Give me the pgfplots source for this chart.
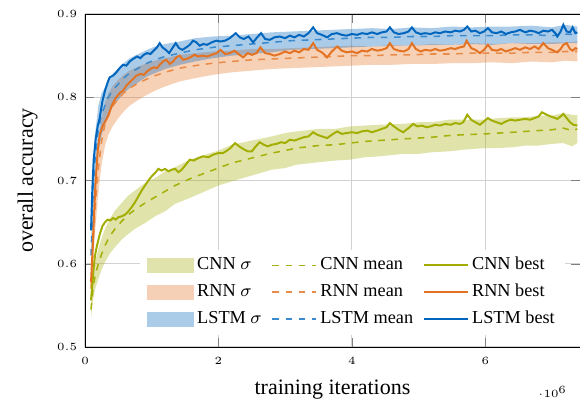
\documentclass[border=0pt]{standalone}
\usepackage{fontspec}
\setmainfont{Liberation Serif}
\usepackage{pgfplots}
\usepackage{pgfplotstable}
\pgfplotsset{compat=1.18}
\usepgfplotslibrary{fillbetween}
\definecolor{tumblue}{RGB}{0,101,189}
\definecolor{tumorange}{RGB}{227,114,34}
\definecolor{tumgreen}{RGB}{162,173,0}
\definecolor{cnnmeancol}{RGB}{165,176,10}
\definecolor{rnnmeancol}{RGB}{233,140,74}
\definecolor{lstmmeancol}{RGB}{60,138,206}
\pgfplotsset{bandlegend/.style={area legend,
  legend image code/.code={\path[##1] (0cm,-0.12cm) rectangle (0.75cm,0.12cm);}}}

% mean and standard deviation (x in millions)
\pgfplotstableread{
x m s
0.09 0.545 0.010
0.12 0.570 0.014
0.15 0.585 0.016
0.20 0.600 0.018
0.25 0.612 0.019
0.30 0.622 0.020
0.37 0.633 0.021
0.45 0.642 0.022
0.55 0.651 0.022
0.65 0.659 0.023
0.75 0.665 0.023
0.90 0.673 0.024
1.05 0.680 0.023
1.20 0.687 0.024
1.35 0.694 0.022
1.57 0.702 0.023
1.80 0.709 0.022
2.00 0.715 0.021
2.20 0.721 0.022
2.50 0.727 0.021
2.80 0.733 0.020
3.00 0.736 0.021
3.17 0.739 0.020
3.50 0.742 0.020
3.75 0.743 0.019
3.97 0.745 0.020
4.20 0.747 0.019
4.40 0.748 0.019
4.77 0.750 0.018
5.00 0.751 0.019
5.20 0.752 0.018
5.45 0.754 0.019
5.67 0.755 0.018
6.00 0.756 0.017
6.20 0.757 0.018
6.42 0.758 0.018
6.60 0.759 0.017
6.80 0.760 0.018
7.00 0.761 0.017
7.17 0.763 0.018
7.30 0.760 0.019
7.38 0.762 0.017
}\cnnmean

\pgfplotstableread{
x m s
0.09 0.570 0.010
0.12 0.620 0.022
0.15 0.665 0.028
0.20 0.715 0.030
0.25 0.748 0.028
0.30 0.768 0.026
0.35 0.780 0.025
0.42 0.790 0.024
0.50 0.798 0.023
0.58 0.805 0.022
0.67 0.811 0.021
0.80 0.817 0.020
0.93 0.822 0.019
1.05 0.826 0.018
1.20 0.830 0.017
1.42 0.835 0.016
1.65 0.838 0.015
1.92 0.841 0.014
2.20 0.843 0.013
2.50 0.845 0.013
2.80 0.846 0.012
3.10 0.847 0.012
3.40 0.848 0.012
3.70 0.849 0.012
4.00 0.850 0.012
4.30 0.850 0.011
4.60 0.851 0.012
4.90 0.851 0.011
5.20 0.852 0.012
5.50 0.852 0.011
5.80 0.853 0.012
6.10 0.853 0.011
6.40 0.853 0.012
6.70 0.854 0.011
7.00 0.854 0.012
7.20 0.855 0.011
7.38 0.855 0.012
}\rnnmean

\pgfplotstableread{
x m s
0.09 0.610 0.012
0.12 0.680 0.025
0.15 0.725 0.030
0.20 0.762 0.028
0.25 0.780 0.025
0.30 0.790 0.022
0.35 0.800 0.021
0.42 0.809 0.020
0.50 0.816 0.019
0.58 0.823 0.018
0.67 0.829 0.018
0.80 0.835 0.017
0.93 0.841 0.016
1.05 0.845 0.016
1.20 0.849 0.015
1.42 0.853 0.014
1.65 0.857 0.014
1.92 0.860 0.013
2.20 0.862 0.012
2.50 0.864 0.012
2.80 0.866 0.012
3.10 0.868 0.011
3.40 0.869 0.011
3.70 0.870 0.011
4.00 0.871 0.011
4.30 0.872 0.011
4.60 0.872 0.010
4.90 0.873 0.011
5.20 0.873 0.010
5.50 0.874 0.011
5.80 0.874 0.010
6.10 0.874 0.011
6.40 0.875 0.010
6.70 0.875 0.011
7.00 0.874 0.010
7.20 0.876 0.011
7.38 0.875 0.010
}\lstmmean

% best runs
\pgfplotstableread{
x y
0.09 0.556
0.11 0.575
0.13 0.595
0.15 0.610
0.18 0.622
0.22 0.635
0.26 0.645
0.30 0.650
0.34 0.653
0.38 0.652
0.42 0.655
0.46 0.653
0.50 0.656
0.55 0.657
0.60 0.659
0.65 0.663
0.70 0.668
0.75 0.674
0.80 0.681
0.85 0.688
0.90 0.694
0.95 0.700
1.00 0.705
1.05 0.709
1.10 0.714
1.15 0.712
1.20 0.714
1.25 0.711
1.30 0.713
1.35 0.714
1.40 0.710
1.45 0.713
1.50 0.718
1.57 0.725
1.63 0.724
1.70 0.727
1.77 0.729
1.85 0.728
1.92 0.731
2.00 0.733
2.07 0.733
2.13 0.736
2.18 0.739
2.25 0.745
2.31 0.741
2.37 0.738
2.44 0.735
2.50 0.735
2.56 0.741
2.62 0.746
2.68 0.743
2.74 0.741
2.80 0.743
2.87 0.744
2.94 0.746
3.00 0.745
3.07 0.749
3.14 0.748
3.21 0.750
3.28 0.752
3.35 0.753
3.42 0.758
3.48 0.755
3.55 0.753
3.63 0.751
3.70 0.755
3.78 0.759
3.85 0.756
3.92 0.757
4.00 0.758
4.08 0.757
4.15 0.759
4.23 0.760
4.30 0.758
4.38 0.760
4.45 0.762
4.52 0.764
4.57 0.769
4.63 0.765
4.70 0.761
4.77 0.758
4.85 0.763
4.92 0.768
4.98 0.765
5.05 0.766
5.12 0.764
5.18 0.765
5.25 0.767
5.32 0.766
5.40 0.768
5.48 0.767
5.55 0.769
5.62 0.768
5.67 0.770
5.73 0.779
5.79 0.773
5.85 0.770
5.92 0.767
5.98 0.771
6.04 0.775
6.10 0.772
6.17 0.770
6.24 0.768
6.31 0.771
6.38 0.773
6.45 0.772
6.52 0.773
6.60 0.774
6.67 0.773
6.74 0.775
6.80 0.777
6.85 0.782
6.92 0.779
6.98 0.777
7.05 0.775
7.08 0.774
7.13 0.777
7.17 0.780
7.22 0.775
7.27 0.770
7.32 0.767
7.38 0.766
}\cnnbest

\pgfplotstableread{
x y
0.09 0.578
0.11 0.610
0.13 0.650
0.16 0.700
0.19 0.735
0.22 0.755
0.26 0.765
0.31 0.772
0.35 0.778
0.40 0.790
0.46 0.799
0.52 0.805
0.57 0.808
0.62 0.814
0.67 0.818
0.72 0.822
0.77 0.826
0.83 0.828
0.88 0.827
0.93 0.831
0.98 0.834
1.03 0.836
1.08 0.835
1.13 0.840
1.17 0.843
1.22 0.845
1.27 0.840
1.32 0.843
1.37 0.848
1.42 0.850
1.47 0.845
1.52 0.846
1.58 0.848
1.64 0.851
1.70 0.849
1.76 0.850
1.83 0.849
1.90 0.851
1.97 0.853
2.03 0.857
2.10 0.852
2.17 0.853
2.24 0.856
2.30 0.852
2.37 0.848
2.44 0.853
2.50 0.851
2.57 0.853
2.63 0.860
2.70 0.853
2.77 0.852
2.84 0.850
2.92 0.852
3.00 0.855
3.07 0.853
3.14 0.856
3.21 0.854
3.28 0.858
3.35 0.857
3.42 0.865
3.48 0.857
3.55 0.854
3.63 0.848
3.70 0.855
3.78 0.861
3.85 0.856
3.92 0.854
4.00 0.855
4.08 0.853
4.15 0.856
4.23 0.855
4.30 0.858
4.38 0.856
4.45 0.857
4.52 0.859
4.57 0.865
4.63 0.858
4.70 0.856
4.78 0.855
4.85 0.858
4.90 0.865
4.96 0.858
5.03 0.855
5.10 0.857
5.18 0.856
5.25 0.858
5.32 0.856
5.40 0.857
5.48 0.859
5.55 0.858
5.62 0.860
5.68 0.861
5.72 0.868
5.79 0.859
5.85 0.857
5.92 0.853
5.98 0.857
6.04 0.863
6.10 0.857
6.17 0.856
6.24 0.858
6.31 0.855
6.38 0.857
6.45 0.859
6.52 0.857
6.60 0.860
6.67 0.858
6.74 0.861
6.80 0.858
6.87 0.865
6.94 0.859
7.00 0.857
7.05 0.855
7.08 0.854
7.13 0.858
7.17 0.863
7.22 0.865
7.27 0.858
7.31 0.856
7.35 0.859
7.38 0.858
}\rnnbest

\pgfplotstableread{
x y
0.09 0.640
0.11 0.690
0.13 0.725
0.16 0.750
0.19 0.765
0.22 0.775
0.26 0.795
0.30 0.808
0.34 0.818
0.37 0.824
0.42 0.826
0.47 0.830
0.52 0.835
0.57 0.839
0.62 0.838
0.67 0.843
0.72 0.846
0.78 0.849
0.83 0.847
0.88 0.851
0.93 0.853
0.98 0.852
1.03 0.856
1.08 0.860
1.12 0.865
1.16 0.860
1.21 0.857
1.26 0.853
1.31 0.859
1.36 0.865
1.41 0.859
1.46 0.857
1.52 0.860
1.57 0.863
1.62 0.868
1.67 0.866
1.72 0.862
1.77 0.864
1.83 0.863
1.90 0.866
1.97 0.868
2.03 0.867
2.10 0.868
2.17 0.871
2.26 0.877
2.32 0.872
2.38 0.870
2.45 0.873
2.52 0.866
2.58 0.872
2.64 0.877
2.70 0.870
2.77 0.869
2.84 0.872
2.92 0.873
3.00 0.871
3.07 0.874
3.14 0.872
3.21 0.875
3.28 0.873
3.35 0.877
3.42 0.884
3.48 0.877
3.55 0.875
3.63 0.872
3.70 0.876
3.78 0.877
3.85 0.875
3.92 0.874
4.00 0.876
4.08 0.875
4.15 0.877
4.23 0.876
4.30 0.878
4.38 0.876
4.45 0.878
4.52 0.879
4.57 0.884
4.63 0.878
4.70 0.876
4.78 0.877
4.85 0.879
4.90 0.884
4.96 0.878
5.03 0.876
5.10 0.877
5.18 0.876
5.25 0.878
5.32 0.877
5.40 0.879
5.48 0.878
5.55 0.880
5.62 0.879
5.68 0.881
5.73 0.885
5.79 0.879
5.85 0.880
5.92 0.877
5.98 0.879
6.04 0.883
6.10 0.878
6.17 0.877
6.24 0.879
6.31 0.876
6.38 0.878
6.45 0.879
6.52 0.881
6.60 0.878
6.67 0.880
6.74 0.879
6.80 0.877
6.87 0.880
6.94 0.879
7.00 0.881
7.05 0.877
7.08 0.873
7.13 0.879
7.17 0.887
7.22 0.879
7.27 0.878
7.31 0.884
7.35 0.877
7.38 0.878
}\lstmbest

\begin{document}
\begin{tikzpicture}
\begin{axis}[
  scale only axis,
  width=225pt, height=151.36pt,
  xmin=0, xmax=7.42e6, ymin=0.5, ymax=0.9,
  xtick={0,2e6,4e6,6e6},
  ytick={0.5,0.6,0.7,0.8,0.9},
  grid=major,
  major grid style={gray!35, line width=0.5pt},
  tick label style={font=\tiny},
  xticklabel style={yshift=-1pt},
  yticklabel style={/pgf/number format/fixed, /pgf/number format/precision=1},
  every x tick scale label/.style={at={(xticklabel cs:0.945,5.5pt)}, anchor=near xticklabel, inner sep=0pt},
  xlabel={training iterations},
  ylabel={overall accuracy},
  label style={font=\fontsize{10.6}{12.5}\selectfont},
  every axis x label/.style={at={(axis description cs:0.5,-0.144)}, anchor=base},
  every axis y label/.style={at={(axis description cs:-0.116,0.5)}, rotate=90, anchor=center},
  legend columns=3,
  transpose legend,
  legend cell align=left,
  legend image code/.code={\draw[#1] (0cm,0cm) -- (0.7cm,0cm);},
  legend style={font=\fontsize{8.3}{10}\selectfont, draw=none, fill=white,
    at={(0.97,0.035)}, anchor=south east,
    row sep=2pt,
    nodes={inner sep=1.5pt},
    /tikz/every even column/.append style={column sep=3pt}},
]
\addplot[draw=none, name path=Chi, forget plot] table[x expr=\thisrow{x}*1000000, y expr=\thisrow{m}+\thisrow{s}] {\cnnmean};
\addplot[draw=none, name path=Clo, forget plot] table[x expr=\thisrow{x}*1000000, y expr=\thisrow{m}-\thisrow{s}] {\cnnmean};
\addplot[draw=none, name path=Rhi, forget plot] table[x expr=\thisrow{x}*1000000, y expr=\thisrow{m}+\thisrow{s}] {\rnnmean};
\addplot[draw=none, name path=Rlo, forget plot] table[x expr=\thisrow{x}*1000000, y expr=\thisrow{m}-\thisrow{s}] {\rnnmean};
\addplot[draw=none, name path=Lhi, forget plot] table[x expr=\thisrow{x}*1000000, y expr=\thisrow{m}+\thisrow{s}] {\lstmmean};
\addplot[draw=none, name path=Llo, forget plot] table[x expr=\thisrow{x}*1000000, y expr=\thisrow{m}-\thisrow{s}] {\lstmmean};

\addplot[fill=tumgreen, fill opacity=0.33, draw=none, bandlegend]
  fill between[of=Chi and Clo];
\addlegendentry{CNN $\sigma$}
\addplot[fill=tumorange, fill opacity=0.33, draw=none, bandlegend]
  fill between[of=Rhi and Rlo];
\addlegendentry{RNN $\sigma$}
\addplot[fill=tumblue, fill opacity=0.33, draw=none, bandlegend]
  fill between[of=Lhi and Llo];
\addlegendentry{LSTM $\sigma$}

\addplot[draw=cnnmeancol, dashed, line width=0.7pt] table[x expr=\thisrow{x}*1000000, y=m] {\cnnmean};
\addlegendentry{CNN mean}
\addplot[draw=rnnmeancol, dashed, line width=0.7pt] table[x expr=\thisrow{x}*1000000, y=m] {\rnnmean};
\addlegendentry{RNN mean}
\addplot[draw=lstmmeancol, dashed, line width=0.7pt] table[x expr=\thisrow{x}*1000000, y=m] {\lstmmean};
\addlegendentry{LSTM mean}

\addplot[draw=tumgreen, line width=0.9pt] table[x expr=\thisrow{x}*1000000, y=y] {\cnnbest};
\addlegendentry{CNN best}
\addplot[draw=tumorange, line width=0.9pt] table[x expr=\thisrow{x}*1000000, y=y] {\rnnbest};
\addlegendentry{RNN best}
\addplot[draw=tumblue, line width=0.9pt] table[x expr=\thisrow{x}*1000000, y=y] {\lstmbest};
\addlegendentry{LSTM best}
\end{axis}
\pgfresetboundingbox
\path[use as bounding box] (-38.64pt,-25.45pt) rectangle (225pt,157.73pt);
\end{tikzpicture}
\end{document}
